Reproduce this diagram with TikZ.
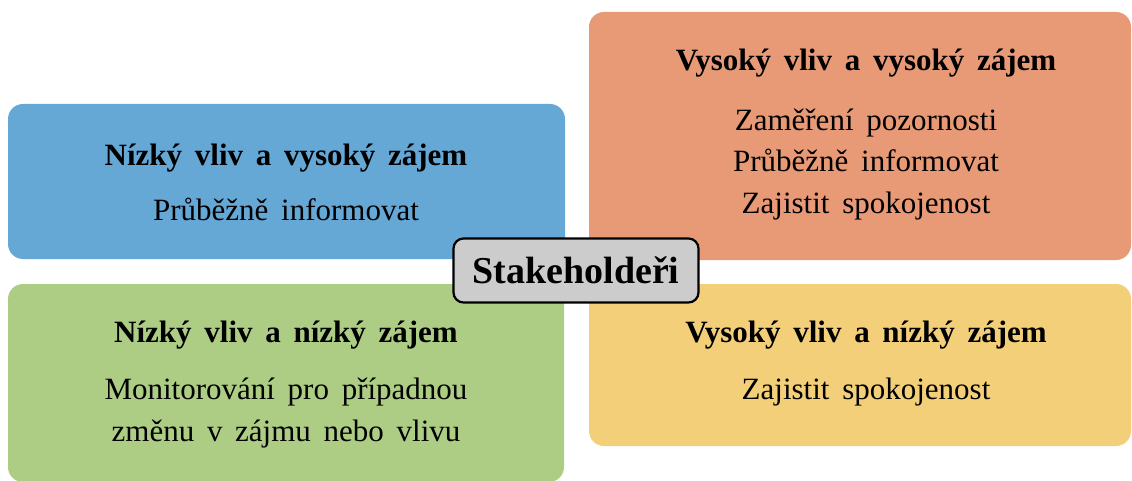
\documentclass[tikz,border=0pt]{standalone}
\usepackage{fontspec}
\setmainfont{Liberation Serif}
\definecolor{cblue}{HTML}{65A8D6}
\definecolor{corange}{HTML}{E89A77}
\definecolor{cyellow}{HTML}{F3CF79}
\definecolor{cgreen}{HTML}{ADCD85}
\definecolor{cgray}{HTML}{CCCCCC}
\newcommand{\widesp}{\spaceskip=0.41em plus 0pt minus 0pt\relax}
\begin{document}
\begin{tikzpicture}[x=1pt,y=-1pt,
  quad/.style={rectangle, rounded corners=15pt, draw=none, inner sep=0pt},
  ttl/.style={font=\fontsize{31}{36}\selectfont\bfseries\widesp, inner sep=0pt, anchor=base},
  txt/.style={font=\fontsize{31}{36}\selectfont\widesp, inner sep=0pt, anchor=base},
  center/.style={rectangle, rounded corners=10pt, draw=black, line width=2.2pt, fill=cgray,
    font=\fontsize{38}{44}\selectfont\bfseries, minimum width=245pt, minimum height=64pt, inner sep=0pt}]
\useasboundingbox (0,0) rectangle (1132,481);
\node[quad, fill=cblue, minimum width=557pt, minimum height=155pt] (lh) at (286.5,181.5) {};
\node[quad, fill=corange, minimum width=542pt, minimum height=248pt] (hh) at (860,136) {};
\node[quad, fill=cgreen, minimum width=556pt, minimum height=198pt] (ll) at (286,383) {};
\node[quad, fill=cyellow, minimum width=542pt, minimum height=162pt] (hl) at (860,365) {};
\node[center] (s) at (576,270.5) {Stakeholdeři};
% blue
\node[ttl] (lht) at (286,166) {Nízký vliv a vysoký zájem};
\node[txt] (lh1) at (286,221) {Průběžně informovat};
% orange
\node[ttl] (hht) at (866,71) {Vysoký vliv a vysoký zájem};
\node[txt] (hh1) at (866,131) {Zaměření pozornosti};
\node[txt] (hh2) at (866,172) {Průběžně informovat};
\node[txt] (hh3) at (866,214) {Zajistit spokojenost};
% green
\node[ttl] (llt) at (286,342) {Nízký vliv a nízký zájem};
\node[txt] (ll1) at (286,399) {Monitorování pro případnou};
\node[txt] (ll2) at (286,441) {změnu v zájmu nebo vlivu};
% yellow
\node[ttl] (hlt) at (866,342) {Vysoký vliv a nízký zájem};
\node[txt] (hl1) at (866,399) {Zajistit spokojenost};
\end{tikzpicture}
\end{document}
